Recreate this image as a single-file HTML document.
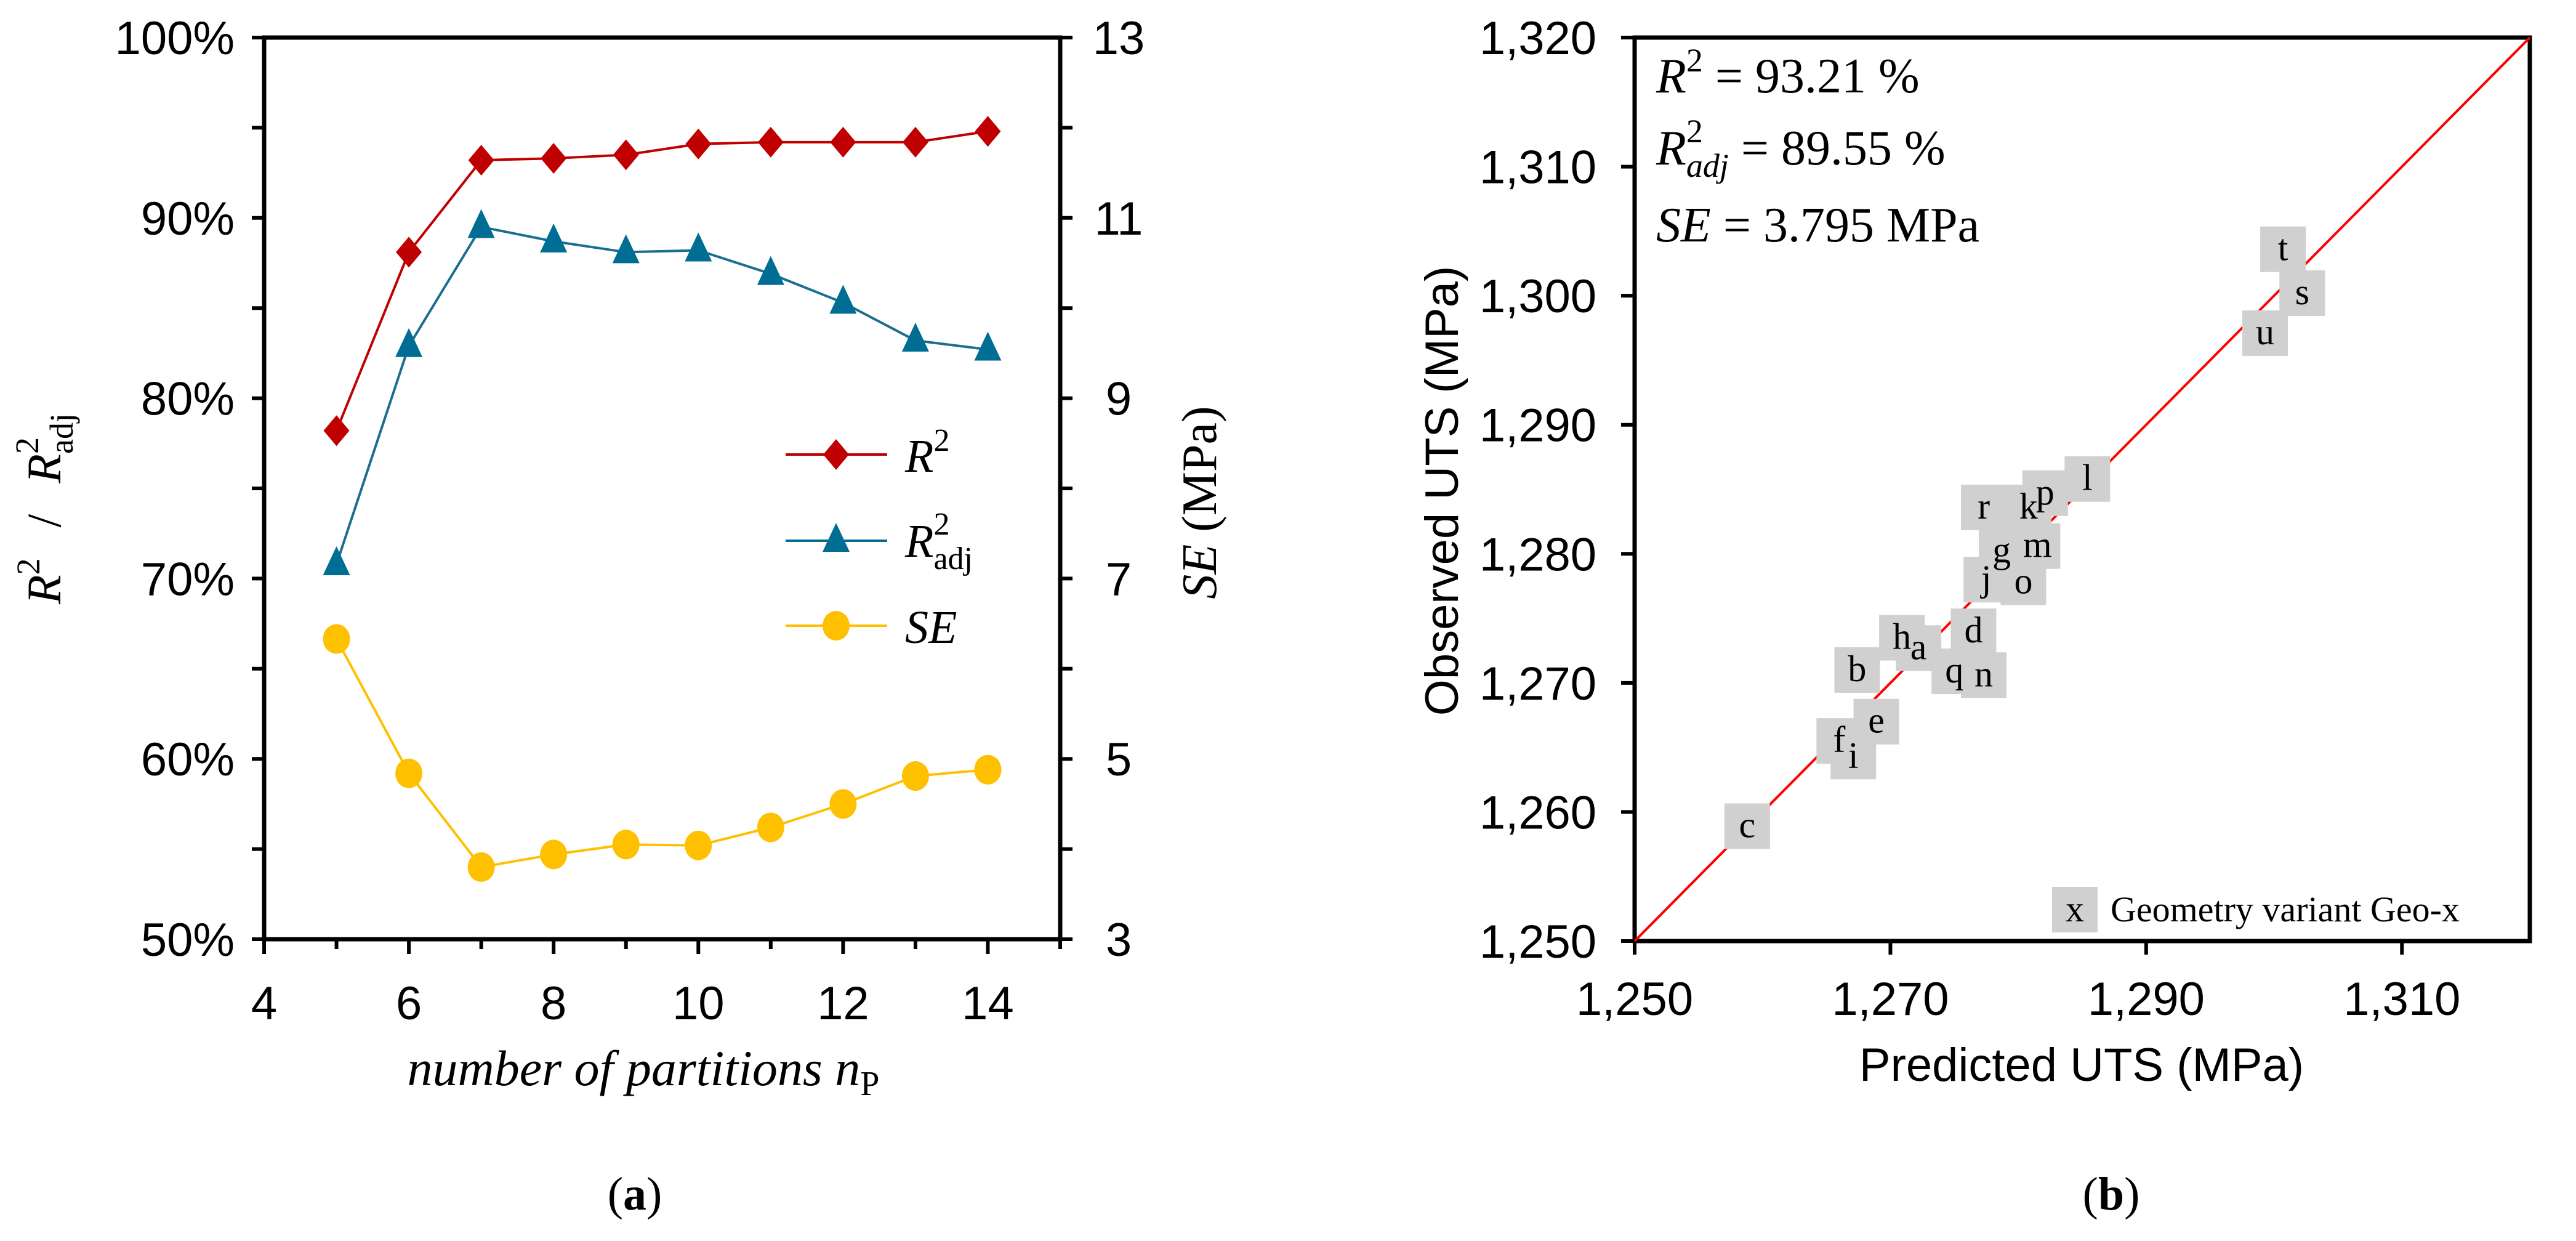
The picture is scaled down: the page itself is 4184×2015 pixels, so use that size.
<!DOCTYPE html>
<html><head><meta charset="utf-8"><style>
html,body{margin:0;padding:0;background:#fff;}
svg{display:block;}
.t{font-family:"Liberation Sans",sans-serif;font-size:76px;fill:#000;}
.s{font-family:"Liberation Serif","DejaVu Serif",serif;fill:#000;}
</style></head><body>
<svg id="svg" width="4184" height="2015" viewBox="0 0 4184 2015" xmlns="http://www.w3.org/2000/svg">
<g id="left"></g>
<g id="right"></g>
</svg>
<script>
// Chart (a) data
const partitions = [5,6,7,8,9,10,11,12,13,14];
const r2Values = [78.2,88.1,93.2,93.3,93.5,94.1,94.2,94.2,94.2,94.8];
const r2adjValues = [70.8,82.9,89.5,88.7,88.1,88.2,86.9,85.3,83.2,82.7];
const seValues = [6.33,4.84,3.80,3.94,4.05,4.04,4.24,4.50,4.81,4.88];
const xTicksA = [4,6,8,10,12,14];
const yTicksA = ["50%","60%","70%","80%","90%","100%"];
const yTicksRight = ["3","5","7","9","11","13"];
// Chart (b) data
const geoLabels = ["t","s","u","l","p","k","r","g","m","j","o","d","h","a","q","n","b","e","f","i","c"];
const predicted = [1300.7,1302.2,1299.3,1285.4,1282.1,1280.8,1277.3,1278.7,1281.5,1277.5,1280.4,1276.5,1270.9,1272.2,1275.0,1277.3,1267.4,1268.9,1266.0,1267.1,1258.8];
const observed = [1303.6,1300.2,1297.1,1285.8,1284.7,1283.6,1283.6,1280.2,1280.6,1278.0,1277.8,1274.0,1273.5,1272.7,1270.9,1270.6,1271.0,1267.0,1265.5,1264.3,1258.9];
const xTicksB = [1250,1270,1290,1310];
const yTicksB = [1250,1260,1270,1280,1290,1300,1310,1320];

const NS="http://www.w3.org/2000/svg";
function mk(parent,tag,attrs,text){const e=document.createElementNS(NS,tag);for(const k in attrs)e.setAttribute(k,attrs[k]);if(text!==undefined)e.textContent=text;parent.appendChild(e);return e;}

// ---------- chart a ----------
const L=document.getElementById('left');
const aL=429,aR=1722,aT=61,aB=1525;
const xA=v=>aL+(v-4)/(15-4)*(aR-aL);
const yA=p=>aB-(p-50)/50*(aB-aT);
const yS=v=>aB-(v-3)/10*(aB-aT);
for(let i=0;i<=10;i++){const y=aT+i*(aB-aT)/10;
 let e=mk(L,'line',{x1:aL-20,x2:aL,y1:y,y2:y,stroke:'#000','stroke-width':6});
 
 e=mk(L,'line',{x1:aR,x2:aR+20,y1:y,y2:y,stroke:'#000','stroke-width':6});
 }
for(let v=4;v<=15;v++){const x=xA(v);
 const e=mk(L,'line',{x1:x,x2:x,y1:aB,y2:aB+(v%2===0?24:16),stroke:'#000','stroke-width':6});
 }
let ax=mk(L,'rect',{x:aL,y:aT,width:aR-aL,height:aB-aT,fill:'none',stroke:'#000','stroke-width':7});

yTicksA.forEach((lab,i)=>{const e=mk(L,'text',{x:aL-48,y:yA(50+i*10)+27,'text-anchor':'end',class:'t'},lab);
 });
yTicksRight.forEach((lab,i)=>{const e=mk(L,'text',{x:aR+95,y:yS(+lab)+27,'text-anchor':'middle',class:'t'},lab);
 });
xTicksA.forEach(v=>{const e=mk(L,'text',{x:xA(v),y:aB+130,'text-anchor':'middle',class:'t'},String(v));
 });
function polyl(vals,fy,col,name){const pts=partitions.map((p,i)=>xA(p)+','+fy(vals[i])).join(' ');
 const e=mk(L,'polyline',{points:pts,fill:'none',stroke:col,'stroke-width':4});
 }
polyl(r2Values,yA,'#c00000','r2-line');
polyl(r2adjValues,yA,'#1a6e92','r2adj-line');
polyl(seValues,yS,'#ffc000','se-line');
function diamond(g,x,y){return mk(g,'polygon',{points:`${x},${y-25} ${x+21},${y} ${x},${y+25} ${x-21},${y}`,fill:'#c00000'});}
function tri(g,x,y){return mk(g,'polygon',{points:`${x},${y-29} ${x+22},${y+18} ${x-22},${y+18}`,fill:'#006e94'});}
function circ(g,x,y){return mk(g,'ellipse',{cx:x,cy:y,rx:22,ry:24,fill:'#ffc000'});}
partitions.forEach((p,i)=>{
 let e=diamond(L,xA(p),yA(r2Values[i]));
 e=tri(L,xA(p),yA(r2adjValues[i]));
 e=circ(L,xA(p),yS(seValues[i]));
});
const lg=mk(L,'g',{});
[[738,'#c00000',diamond],[878,'#006e94',tri],[1016,'#ffc000',circ]].forEach(r=>{mk(lg,'line',{x1:1276,x2:1441,y1:r[0],y2:r[0],stroke:r[1],'stroke-width':4});r[2](lg,1358,r[0]);});
mk(lg,'text',{x:1470,y:766,class:'s','font-size':76},'').innerHTML='<tspan font-style="italic">R</tspan><tspan font-size="52" dy="-34">2</tspan>';
mk(lg,'text',{x:1470,y:904,class:'s','font-size':76},'').innerHTML='<tspan font-style="italic">R</tspan><tspan font-size="52" dy="-36">2</tspan><tspan font-size="52" dx="-26" dy="56">adj</tspan>';
mk(lg,'text',{x:1470,y:1044,class:'s','font-size':76,'font-style':'italic'},'SE');
let tt=mk(L,'text',{x:0,y:0,class:'s','font-size':78,'text-anchor':'middle',transform:'translate(98,826) rotate(-90)'},'');
tt.innerHTML='<tspan font-style="italic">R</tspan><tspan font-size="54" dy="-34">2</tspan><tspan dy="34" dx="50">/</tspan><tspan dx="50" font-style="italic">R</tspan><tspan font-size="54" dy="-36">2</tspan><tspan font-size="54" dx="-27" dy="56">adj</tspan>';

tt=mk(L,'text',{x:0,y:0,class:'s','font-size':80,'text-anchor':'middle',transform:'translate(1975,816) rotate(-90)'},'');
tt.innerHTML='<tspan font-style="italic">SE</tspan> (MPa)';

tt=mk(L,'text',{x:1045,y:1762,class:'s','font-size':82,'font-style':'italic','text-anchor':'middle'},'');
tt.innerHTML='number of partitions n<tspan font-style="normal" font-size="56" dy="16">P</tspan>';

tt=mk(L,'text',{x:1031,y:1964,class:'s','font-size':76,'text-anchor':'middle'},'');
tt.innerHTML='(<tspan font-weight="bold">a</tspan>)';


// ---------- chart b ----------
const R=document.getElementById('right');
const bL=2655,bR=4109,bT=61,bB=1528;
const xB=v=>bL+(v-1250)/70*(bR-bL);
const yB=v=>bB-(v-1250)/70*(bB-bT);
yTicksB.forEach(v=>{const y=yB(v);
 let e=mk(R,'line',{x1:bL-22,x2:bL,y1:y,y2:y,stroke:'#000','stroke-width':6});
 e=mk(R,'text',{x:bL-62,y:y+27,'text-anchor':'end',class:'t'},v.toLocaleString('en-US'));});
xTicksB.forEach(v=>{const x=xB(v);
 let e=mk(R,'line',{x1:x,x2:x,y1:bB,y2:bB+22,stroke:'#000','stroke-width':6});
 e=mk(R,'text',{x:x,y:bB+120,'text-anchor':'middle',class:'t'},v.toLocaleString('en-US'));});
ax=mk(R,'rect',{x:bL,y:bT,width:bR-bL,height:bB-bT,fill:'none',stroke:'#000','stroke-width':7});

let dl=mk(R,'line',{x1:xB(1250),y1:yB(1250),x2:xB(1320),y2:yB(1320),stroke:'#ff0000','stroke-width':4});

geoLabels.forEach((lab,i)=>{const x=xB(predicted[i]),y=yB(observed[i]);
 const r=mk(R,'rect',{x:x-37,y:y-37,width:74,height:74,fill:'#d0d0d0'});
 });
geoLabels.forEach((lab,i)=>{const x=xB(predicted[i]),y=yB(observed[i]);
 const t=mk(R,'text',{x:x,y:y+18,'text-anchor':'middle',class:'s','font-size':60},lab);
 });
const lb=mk(R,'g',{});
mk(lb,'rect',{x:3333,y:1440,width:74,height:74,fill:'#d0d0d0'});
mk(lb,'text',{x:3370,y:1496,'text-anchor':'middle',class:'s','font-size':60},'x');
mk(lb,'text',{x:3428,y:1496,class:'s','font-size':58},'Geometry variant Geo-x');
let an=mk(R,'text',{x:2690,y:150,class:'s','font-size':80},'');
an.innerHTML='<tspan font-style="italic">R</tspan><tspan font-size="54" dy="-34">2</tspan><tspan dy="34"> = 93.21 %</tspan>';

an=mk(R,'text',{x:2690,y:267,class:'s','font-size':80},'');
an.innerHTML='<tspan font-style="italic">R</tspan><tspan font-size="54" dy="-36">2</tspan><tspan font-size="54" font-style="italic" dx="-27" dy="56">adj</tspan><tspan dy="-20"> = 89.55 %</tspan>';

an=mk(R,'text',{x:2690,y:392,class:'s','font-size':80},'');
an.innerHTML='<tspan font-style="italic">SE</tspan> = 3.795 MPa';

tt=mk(R,'text',{x:0,y:0,class:'t','text-anchor':'middle',transform:'translate(2368,797) rotate(-90)'},'Observed UTS (MPa)');

tt=mk(R,'text',{x:3381,y:1755,class:'t','text-anchor':'middle'},'Predicted UTS (MPa)');

tt=mk(R,'text',{x:3429,y:1964,class:'s','font-size':76,'text-anchor':'middle'},'');
tt.innerHTML='(<tspan font-weight="bold">b</tspan>)';

</script>
</body></html>
